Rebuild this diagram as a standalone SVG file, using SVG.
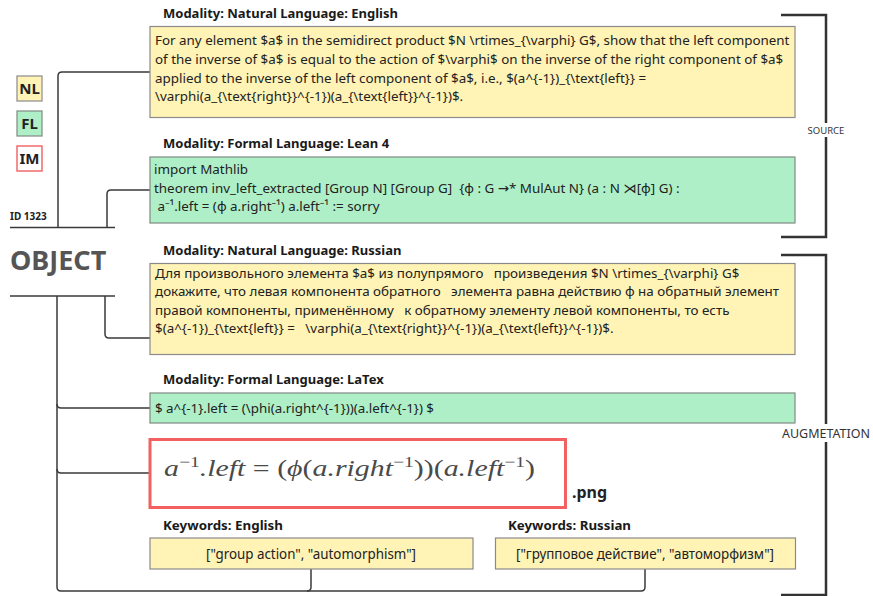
<svg xmlns="http://www.w3.org/2000/svg" width="873" height="596" viewBox="0 0 873 596">
  <style>
    .t { font-family: "Noto Sans", "Open Sans", "DejaVu Sans", sans-serif; fill: #222; }
    .body { font-size: 13.4px; }
    .title { font-size: 13px; font-weight: bold; fill: #1a1a1a; }
    .nl { fill: #fff3b5; stroke: #8a8a8a; stroke-width: 1.2; }
    .fl { fill: #aeefc8; stroke: #7f8a82; stroke-width: 1.2; }
    .im { fill: #ffffff; stroke: #f26060; stroke-width: 3; }
    .conn { fill: none; stroke: #3a3a3a; stroke-width: 1.5; }
    .brk { fill: none; stroke: #333; stroke-width: 2.5; }
    .legend { font-size: 15px; font-weight: bold; }
    .grp { fill: #333; }
    .math { font-family: "Liberation Serif", "DejaVu Serif", serif; font-style: italic; font-size: 23px; fill: #4a4a4a; }
    .up { font-style: normal; }
  </style>

  <!-- legend -->
  <g id="legend">
    <rect x="17" y="76" width="25" height="25" class="nl"/>
    <text x="29.5" y="94" text-anchor="middle" class="t legend">NL</text>
    <rect x="17" y="111" width="25" height="25" class="fl"/>
    <text x="29.5" y="129" text-anchor="middle" class="t legend">FL</text>
    <rect x="17" y="146" width="25" height="25" fill="#fff" stroke="#f26a6a" stroke-width="1.5"/>
    <text x="29.5" y="164" text-anchor="middle" class="t legend">IM</text>
  </g>

  <!-- object header -->
  <g id="object">
    <text x="10" y="220" class="t" font-size="10" font-weight="bold">ID 1323</text>
    <text x="10" y="270" class="t" font-size="27" font-weight="bold" style="fill:#555">OBJECT</text>
  </g>

  <!-- connectors -->
  <g id="connectors">
    <line x1="10" y1="227.5" x2="115" y2="227.5" class="conn"/>
    <line x1="10" y1="296" x2="115" y2="296" class="conn"/>
    <path d="M58 227.5 V76 Q58 72 62 72 H150" class="conn"/>
    <path d="M107 227.5 V194 Q107 190 111 190 H150" class="conn"/>
    <path d="M105 296 V334 Q105 338 109 338 H150" class="conn"/>
    <path d="M57 296 V587 Q57 591 61 591 H641 Q645 591 645 587 V569" class="conn"/>
    <path d="M57 404 Q57 408 61 408 H150" class="conn"/>
    <path d="M57 469 Q57 473 61 473 H150" class="conn"/>
    <path d="M307 591 Q311 591 311 587 V569" class="conn"/>
    <!-- group brackets -->
    <path d="M781 15 H826 V237 H781" class="brk"/>
    <path d="M781 255 H826 V595 H781" class="brk"/>
    <rect x="804" y="123" width="44" height="14" fill="#fff"/>
    <text x="826" y="134" text-anchor="middle" class="t grp" font-size="9.5">SOURCE</text>
    <rect x="778" y="424" width="95" height="18" fill="#fff"/>
    <text x="826" y="437.5" text-anchor="middle" class="t grp" font-size="12.5">AUGMETATION</text>
  </g>

  <!-- natural language: English -->
  <g id="nl-english">
    <text x="163" y="18" class="t title">Modality: Natural Language: English</text>
    <rect x="150" y="26.5" width="645" height="91" class="nl"/>
    <text class="t body" xml:space="preserve">
      <tspan x="155" y="45">For any element $a$ in the semidirect product $N \rtimes_{\varphi} G$, show that the left component</tspan>
      <tspan x="155" y="64">of the inverse of $a$ is equal to the action of $\varphi$ on the inverse of the right component of $a$</tspan>
      <tspan x="155" y="82.5">applied to the inverse of the left component of $a$, i.e., $(a^{-1})_{\text{left}} =</tspan>
      <tspan x="155" y="101">\varphi(a_{\text{right}}^{-1})(a_{\text{left}}^{-1})$.</tspan>
    </text>
  </g>

  <!-- formal language: Lean 4 -->
  <g id="fl-lean">
    <text x="163" y="148" class="t title">Modality: Formal Language: Lean 4</text>
    <rect x="150" y="157" width="645" height="66" class="fl"/>
    <text class="t body" xml:space="preserve">
      <tspan x="154" y="174">import Mathlib</tspan>
      <tspan x="154" y="192.5">theorem inv_left_extracted [Group N] [Group G]  {ϕ : G →* MulAut N} (a : N ⋊[ϕ] G) :</tspan>
      <tspan x="154" y="211"> a⁻¹.left = (ϕ a.right⁻¹) a.left⁻¹ := sorry</tspan>
    </text>
  </g>

  <!-- natural language: Russian -->
  <g id="nl-russian">
    <text x="163" y="255" class="t title">Modality: Natural Language: Russian</text>
    <rect x="150" y="263.5" width="645" height="91" class="nl"/>
    <text class="t body" xml:space="preserve">
      <tspan x="155" y="277.5">Для произвольного элемента $a$ из полупрямого   произведения $N \rtimes_{\varphi} G$</tspan>
      <tspan x="155" y="296">докажите, что левая компонента обратного   элемента равна действию ϕ на обратный элемент</tspan>
      <tspan x="155" y="314.5">правой компоненты, применённому   к обратному элементу левой компоненты, то есть</tspan>
      <tspan x="155" y="333">$(a^{-1})_{\text{left}} =   \varphi(a_{\text{right}}^{-1})(a_{\text{left}}^{-1})$.</tspan>
    </text>
  </g>

  <!-- formal language: LaTeX -->
  <g id="fl-latex">
    <text x="163" y="384" class="t title">Modality: Formal Language: LaTex</text>
    <rect x="150" y="393" width="645" height="30" class="fl"/>
    <text x="155" y="412.5" class="t" font-size="12.5" textLength="279" lengthAdjust="spacingAndGlyphs">$ a^{-1}.left = (\phi(a.right^{-1}))(a.left^{-1}) $</text>
  </g>

  <!-- rendered formula image -->
  <g id="im-png">
    <rect x="150" y="439.5" width="415.5" height="68" class="im"/>
    <text x="164" y="476" class="math" textLength="371" lengthAdjust="spacingAndGlyphs">a<tspan class="up" font-size="15" dy="-9">−1</tspan><tspan dy="9">.left </tspan><tspan class="up">= (</tspan>ϕ<tspan class="up">(</tspan>a.right<tspan class="up" font-size="15" dy="-9">−1</tspan><tspan class="up" dy="9">))(</tspan>a.left<tspan class="up" font-size="15" dy="-9">−1</tspan><tspan class="up" dy="9">)</tspan></text>
    <text x="572" y="498" class="t" font-size="16" font-weight="bold">.png</text>
  </g>

  <!-- keywords: English -->
  <g id="kw-english">
    <text x="163" y="529.5" class="t title" textLength="120" lengthAdjust="spacingAndGlyphs">Keywords: English</text>
    <rect x="150" y="538" width="323" height="31" class="nl"/>
    <text x="311" y="559" text-anchor="middle" class="t" font-size="14" textLength="210" lengthAdjust="spacingAndGlyphs">["group action", "automorphism"]</text>
  </g>

  <!-- keywords: Russian -->
  <g id="kw-russian">
    <text x="508" y="529.5" class="t title" textLength="123" lengthAdjust="spacingAndGlyphs">Keywords: Russian</text>
    <rect x="495.5" y="538" width="300" height="31" class="nl"/>
    <text x="645" y="559" text-anchor="middle" class="t" font-size="14" textLength="258" lengthAdjust="spacingAndGlyphs">["групповое действие", "автоморфизм"]</text>
  </g>
</svg>
